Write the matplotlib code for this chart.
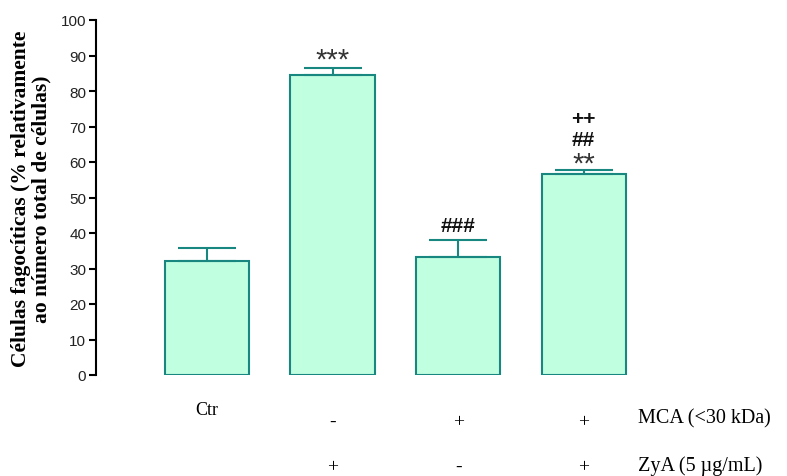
import matplotlib
matplotlib.use("Agg")
import matplotlib.pyplot as plt
import numpy as np

# Phagocytic cells (% of total cells), mean and upper error
groups = ["Ctr", "ZyA", "MCA", "MCA+ZyA"]
means = [32.1, 84.6, 33.1, 56.7]
errors = [3.7, 1.9, 5.0, 1.1]
marks = [[], ["***"], ["###"], ["**", "##", "++"]]
mca_row = ["", "-", "+", "+"]
zya_row = ["", "+", "-", "+"]
yticks = list(range(0, 101, 10))

fill = "#c0ffe0"
edge = "#17877f"

fig = plt.figure(figsize=(7.87, 4.77), dpi=100)
W, H = 787, 477
ax_left, ax_right, ax_top, ax_bottom = 96, 659, 21, 376
ax = fig.add_axes([ax_left / W, 1 - ax_bottom / H,
                   (ax_right - ax_left) / W, (ax_bottom - ax_top) / H])

x = np.arange(len(groups))
ax.bar(x, means, width=0.67, color=fill, edgecolor=edge, linewidth=1.5, zorder=2)
ax.errorbar(x, means, yerr=[np.zeros(len(errors)), errors], fmt="none",
            ecolor=edge, elinewidth=1.5, capsize=21, capthick=1.5, zorder=3)

ax.set_xlim(-0.884, 3.6)
ax.set_ylim(0, 100)
ax.set_yticks(yticks)
ax.tick_params(axis="y", direction="out", length=5, width=1.5, pad=2,
               labelsize=11, labelcolor="#222222")
for lab in ax.get_yticklabels():
    lab.set_family("Liberation Sans")
ax.set_xticks([])
for s in ["top", "right", "bottom"]:
    ax.spines[s].set_visible(False)
ax.spines["left"].set_linewidth(1.5)

# significance marks stacked above the bars
mark_y = {1: [89.6], 2: [42.0], 3: [60.3, 66.4, 72.3]}
for i, syms in enumerate(marks):
    for sym, yy in zip(syms, mark_y.get(i, [])):
        if "*" in sym:
            ax.text(i, yy - 0.8, sym, ha="center", va="center", fontsize=21,
                    family="Liberation Sans", color="#333333")
        else:
            ax.text(i, yy, sym, ha="center", va="center", fontsize=15,
                    family="Liberation Sans", fontweight="bold", color="#111111")

# treatment table below the axis
trans = matplotlib.transforms.blended_transform_factory(ax.transData, ax.transAxes)
serif = "Liberation Serif"
ax.text(0, -0.096, groups[0], transform=trans, ha="center", va="center",
        fontsize=13, family=serif)
for i in range(1, 4):
    ax.text(i, -0.13, mca_row[i], transform=trans, ha="center", va="center",
            fontsize=14, family=serif)
    ax.text(i, -0.257, zya_row[i], transform=trans, ha="center", va="center",
            fontsize=14, family=serif)
ax.text(3.43, -0.122, "MCA (<30 kDa)", transform=trans, ha="left", va="center",
        fontsize=14.5, family=serif, clip_on=False)
ax.text(3.43, -0.255, "ZyA (5 µg/mL)", transform=trans, ha="left", va="center",
        fontsize=14.5, family=serif, clip_on=False)

fig.text(31 / W, 1 - 199 / H,
         "Células fagocíticas (% relativamente\nao número total de células)",
         rotation=90, ha="center", va="center", multialignment="center",
         fontsize=15.5, family=serif, fontweight="bold", linespacing=1.0)

fig.savefig("out.png", dpi=100)
